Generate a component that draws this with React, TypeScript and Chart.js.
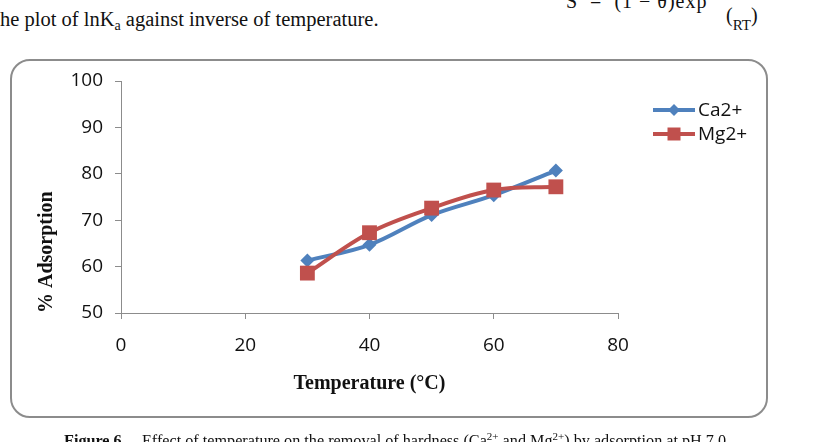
import React, { useEffect, useRef } from "react";
import { Chart, registerables } from "chart.js";

Chart.register(...registerables);

// ---- data ----
const temperatures = [30, 40, 50, 60, 70];
const caValues = [61.3, 64.7, 71.1, 75.4, 80.7];
const mgValues = [58.6, 67.3, 72.6, 76.5, 77.2];
const seriesNames = ["Ca2+", "Mg2+"];
const xTickValues = [0, 20, 40, 60, 80];
const yTickValues = [50, 60, 70, 80, 90, 100];

const BLUE = "#4F81BD";
const RED = "#C0504D";
const AXIS = "#8c8c8c";
const TICK_FONT = "'Open Sans', sans-serif";
const SERIF = "'Liberation Serif', 'Times New Roman', serif";

const legendPlugin = {
  id: "sideLegend",
  afterDraw(chart: any) {
    const ctx = chart.ctx;
    const items = [
      { name: seriesNames[0], color: BLUE, style: "diamond", y: 110 },
      { name: seriesNames[1], color: RED, style: "square", y: 134 },
    ];
    ctx.save();
    items.forEach((it) => {
      const x0 = 653;
      const x1 = 695;
      const cx = (x0 + x1) / 2;
      ctx.strokeStyle = it.color;
      ctx.lineWidth = 4;
      ctx.beginPath();
      ctx.moveTo(x0, it.y);
      ctx.lineTo(x1, it.y);
      ctx.stroke();
      ctx.fillStyle = it.color;
      ctx.beginPath();
      if (it.style === "diamond") {
        const r = 6;
        ctx.moveTo(cx - r, it.y);
        ctx.lineTo(cx, it.y - r);
        ctx.lineTo(cx + r, it.y);
        ctx.lineTo(cx, it.y + r);
        ctx.closePath();
      } else {
        const h = 6.5;
        ctx.rect(cx - h, it.y - h, 2 * h, 2 * h);
      }
      ctx.fill();
      ctx.fillStyle = "#111";
      ctx.font = `19px ${TICK_FONT}`;
      ctx.textAlign = "left";
      ctx.textBaseline = "middle";
      ctx.fillText(it.name, x1 + 3, it.y + 1);
    });
    ctx.restore();
  },
};

export default function App() {
  const canvasRef = useRef<HTMLCanvasElement | null>(null);

  useEffect(() => {
    if (!canvasRef.current) return;
    const chart = new Chart(canvasRef.current, {
      type: "line",
      data: {
        datasets: [
          {
            label: seriesNames[0],
            data: temperatures.map((t, i) => ({ x: t, y: caValues[i] })),
            borderColor: BLUE,
            backgroundColor: BLUE,
            borderWidth: 4,
            pointStyle: "rectRot",
            pointRadius: 7,
            pointBorderWidth: 0,
            tension: 0.35,
            order: 1,
          },
          {
            label: seriesNames[1],
            data: temperatures.map((t, i) => ({ x: t, y: mgValues[i] })),
            borderColor: RED,
            backgroundColor: RED,
            borderWidth: 4,
            pointStyle: "rect",
            pointRadius: 10.5,
            pointBorderWidth: 0,
            tension: 0.35,
            order: 0,
          },
        ],
      },
      options: {
        responsive: false,
        animation: false,
        layout: { padding: { left: 35, top: 81, right: 207, bottom: 46 } },
        plugins: { legend: { display: false }, tooltip: { enabled: false } },
        scales: {
          x: {
            type: "linear",
            min: 0,
            max: 80,
            afterBuildTicks: (s: any) => {
              s.ticks = xTickValues.map((v) => ({ value: v }));
            },
            afterFit: (s: any) => {
              s.height = 83;
            },
            grid: {
              display: true,
              drawOnChartArea: false,
              drawTicks: true,
              tickLength: 6,
              color: AXIS,
            },
            border: { display: true, color: AXIS, width: 1 },
            ticks: {
              padding: 15,
              color: "#111",
              font: { family: TICK_FONT, size: 19 },
              maxRotation: 0,
            },
            title: {
              display: true,
              text: "Temperature (°C)",
              color: "#111",
              font: { family: SERIF, size: 20, weight: "bold" },
              padding: 0,
            },
          },
          y: {
            type: "linear",
            min: 50,
            max: 100,
            afterBuildTicks: (s: any) => {
              s.ticks = yTickValues.map((v) => ({ value: v }));
            },
            afterFit: (s: any) => {
              s.width = 86;
            },
            grid: {
              display: true,
              drawOnChartArea: false,
              drawTicks: true,
              tickLength: 6,
              color: AXIS,
            },
            border: { display: true, color: AXIS, width: 1 },
            ticks: {
              padding: 12,
              color: "#111",
              font: { family: TICK_FONT, size: 19 },
            },
            title: {
              display: true,
              text: "% Adsorption",
              align: "start",
              color: "#111",
              font: { family: SERIF, size: 20, weight: "bold" },
              padding: 0,
            },
          },
        },
      },
      plugins: [legendPlugin],
    } as any);
    return () => chart.destroy();
  }, []);

  return (
    <div
      style={{
        position: "absolute",
        left: 0,
        top: 0,
        width: 825,
        height: 442,
        overflow: "hidden",
        background: "#fff",
        fontFamily: SERIF,
        color: "#111",
      }}
    >
      <div
        style={{
          position: "absolute",
          left: 566,
          top: -9,
          fontSize: 20,
          lineHeight: "20px",
          whiteSpace: "pre",
          letterSpacing: "1px",
        }}
      >
        S  =  (1 − θ)exp
      </div>
      <div
        style={{
          position: "absolute",
          left: 726,
          top: 5,
          fontSize: 20,
          lineHeight: "20px",
          whiteSpace: "pre",
        }}
      >
        (<span style={{ fontSize: 15, position: "relative", top: 8 }}>RT</span>)
      </div>
      <div
        style={{
          position: "absolute",
          left: 0,
          top: 9,
          fontSize: 20.5,
          lineHeight: "20px",
          whiteSpace: "pre",
        }}
      >
        he plot of lnK<sub style={{ fontSize: 14, verticalAlign: "-4px" }}>a</sub> against inverse of temperature.
      </div>
      <div
        style={{
          position: "absolute",
          left: 10,
          top: 59,
          width: 758,
          height: 359,
          border: `2px solid ${AXIS}`,
          borderRadius: 20,
          boxSizing: "border-box",
        }}
      />
      <canvas
        ref={canvasRef}
        width={825}
        height={442}
        style={{ position: "absolute", left: 0, top: 0, width: 825, height: 442 }}
      />
      <div
        style={{
          position: "absolute",
          left: 64,
          top: 428,
          fontSize: 16.2,
          lineHeight: "16px",
          whiteSpace: "pre",
        }}
      >
        <b>Figure 6.</b>
        {"    Effect of temperature on the removal of hardness (Ca"}
        <sup style={{ fontSize: 11, verticalAlign: "6px" }}>2+</sup>
        {" and Mg"}
        <sup style={{ fontSize: 11, verticalAlign: "6px" }}>2+</sup>
        {") by adsorption at pH 7.0"}
      </div>
    </div>
  );
}
